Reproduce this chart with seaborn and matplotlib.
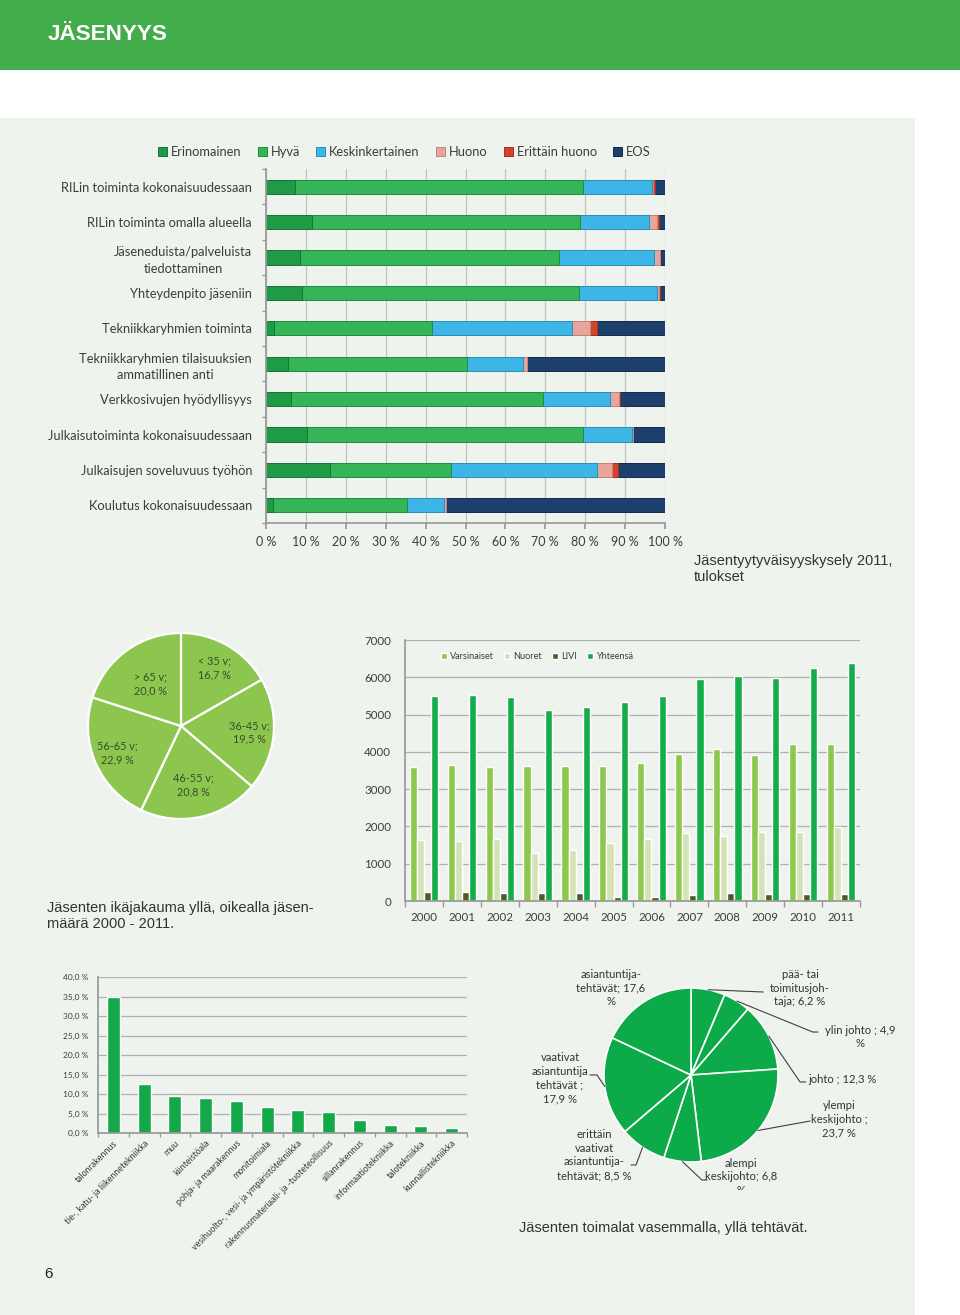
import numpy as np
import pandas as pd
import seaborn as sns
import matplotlib.pyplot as plt
from matplotlib.patches import Rectangle

sns.set_theme(style="white")
plt.rcParams['font.family'] = ['Lato', 'DejaVu Sans']

W, H = 960, 1315
TXT = '#3c3c3c'

# ---------------- data ----------------
questions = ["RILin toiminta kokonaisuudessaan", "RILin toiminta omalla alueella",
             "Jäseneduista/palveluista\ntiedottaminen", "Yhteydenpito jäseniin",
             "Tekniikkaryhmien toiminta", "Tekniikkaryhmien tilaisuuksien\nammatillinen anti",
             "Verkkosivujen hyödyllisyys", "Julkaisutoiminta kokonaisuudessaan",
             "Julkaisujen soveluvuus työhön", "Koulutus kokonaisuudessaan"]
erinomainen = [7.3, 11.5, 8.6, 9.0, 1.9, 5.5, 6.3, 10.3, 16.1, 1.7]
hyva = [72.1, 67.2, 64.9, 69.5, 39.8, 44.8, 63.2, 69.2, 30.3, 33.6]
keskinkertainen = [17.3, 17.3, 23.8, 19.4, 35.1, 14.1, 16.7, 12.3, 36.5, 9.4]
huono = [0.4, 1.9, 1.4, 0.6, 4.4, 1.0, 2.3, 0.3, 3.9, 0.3]
erittain_huono = [0.4, 0.6, 0.0, 0.3, 1.7, 0.0, 0.3, 0.0, 1.5, 0.0]
eos = [2.5, 1.5, 1.3, 1.2, 17.1, 34.6, 11.2, 7.9, 11.7, 55.0]

age_groups = ["< 35 v;\n16,7 %", "36-45 v;\n19,5 %", "46-55 v;\n20,8 %", "56-65 v;\n22,9 %", "> 65 v;\n20,0 %"]
age_share = [16.7, 19.5, 20.8, 22.9, 20.0]

years = [str(y) for y in range(2000, 2012)]
varsinaiset = [3600, 3650, 3585, 3630, 3620, 3630, 3710, 3945, 4075, 3915, 4200, 4210]
nuoret = [1635, 1620, 1655, 1280, 1360, 1565, 1665, 1815, 1745, 1860, 1850, 1995]
livi = [250, 250, 225, 225, 225, 115, 115, 160, 205, 180, 190, 195]
yhteensa = [5505, 5525, 5480, 5135, 5210, 5330, 5505, 5955, 6045, 5990, 6250, 6385]

branches = ["talonrakennus", "tie-, katu- ja liikennetekniikka", "muu", "kiinteistöala",
            "pohja- ja maarakennus", "monitoimiala", "vesihuolto-, vesi- ja ympäristötekniikka",
            "rakennusmateriaali- ja -tuoteteollisuus", "sillanrakennus", "informaatiotekniikka",
            "talotekniikka", "kunnallistekniikka"]
branch_share = [35.0, 12.5, 9.6, 8.9, 8.1, 6.6, 6.0, 5.3, 3.4, 2.1, 1.7, 1.3]

tasks = ["pää- tai\ntoimitusjoh-\ntaja; 6,2 %", "ylin johto ; 4,9\n%", "johto ; 12,3 %",
         "ylempi\nkeskijohto ;\n23,7 %", "alempi\nkeskijohto; 6,8\n%",
         "erittäin\nvaativat\nasiantuntija-\ntehtävät; 8,5 %",
         "vaativat\nasiantuntija\ntehtävät ;\n17,9 %", "asiantuntija-\ntehtävät; 17,6\n%"]
task_share = [6.2, 4.9, 12.3, 23.7, 6.8, 8.5, 17.9, 17.6]

# ---------------- page ----------------
fig = plt.figure(figsize=(W / 100, H / 100), dpi=100)
fig.patch.set_facecolor('white')


def px_axes(x0, y0, x1, y1):
    ax = fig.add_axes([x0 / W, 1 - y1 / H, (x1 - x0) / W, (y1 - y0) / H])
    ax.set_facecolor('none')
    return ax


fig.add_artist(Rectangle((0, 1 - 70 / H), 1, 70 / H, transform=fig.transFigure,
                         facecolor='#42ad4a', edgecolor='none', zorder=-2))
fig.add_artist(Rectangle((0, 0), 915 / W, 1 - 118 / H, transform=fig.transFigure,
                         facecolor='#eff3ee', edgecolor='none', zorder=-2))
fig.text(48 / W, 1 - 34 / H, "JÄSENYYS", color='white', fontsize=16.2, fontweight='bold',
         family='Liberation Sans', va='center')

# ---------------- survey, stacked bars ----------------
ax1 = px_axes(266, 169, 665, 523)
cols = ['Erinomainen', 'Hyvä', 'Keskinkertainen', 'Huono', 'Erittäin huono', 'EOS']
sat_colors = {'Erinomainen': '#1f9b45', 'Hyvä': '#35b558', 'Keskinkertainen': '#3db5e6',
              'Huono': '#e8a59c', 'Erittäin huono': '#d2452a', 'EOS': '#1d3f6c'}
sat_edges = {'Erinomainen': '#16753a', 'Hyvä': '#228c41', 'Keskinkertainen': '#2a8fb8',
             'Huono': '#c98279', 'Erittäin huono': '#a5321c', 'EOS': '#13294a'}
sat = pd.DataFrame({'kysymys': questions, 'Erinomainen': erinomainen, 'Hyvä': hyva,
                    'Keskinkertainen': keskinkertainen, 'Huono': huono,
                    'Erittäin huono': erittain_huono, 'EOS': eos})
cum = sat[cols].cumsum(axis=1)
cum['kysymys'] = questions
for col in reversed(cols):
    sns.barplot(data=cum, x=col, y='kysymys', orient='h', color=sat_colors[col],
                saturation=1, width=0.4, errorbar=None, edgecolor=sat_edges[col],
                linewidth=0.7, label=col, ax=ax1)
ax1.set_xlim(0, 100)
ax1.set_xticks(np.arange(0, 101, 10))
ax1.set_xticklabels([f"{v} %" for v in range(0, 101, 10)], fontsize=9, color=TXT)
ax1.set_yticklabels(questions, fontsize=9.3, color=TXT, multialignment='center')
for t in ax1.get_yticklabels():
    t.set_linespacing(1.45)
ax1.set_xlabel('')
ax1.set_ylabel('')
ax1.xaxis.grid(True, color='#c4c4c4', lw=0.9)
ax1.set_axisbelow(True)
ax1.set_yticks(np.arange(-0.5, 10, 1), minor=True)
ax1.tick_params(axis='y', which='major', length=0, pad=10)
ax1.tick_params(axis='y', which='minor', length=3, color='#999999', left=True)
ax1.tick_params(axis='x', length=4, color='#999999', bottom=True, pad=5)
for s in ['top', 'right']:
    ax1.spines[s].set_visible(False)
for s in ['left', 'bottom']:
    ax1.spines[s].set_color('#999999')
handles, labels = ax1.get_legend_handles_labels()
ax1.legend(handles[::-1], labels[::-1], ncol=6, loc='center', bbox_to_anchor=(0.347, 1.048),
           frameon=False, fontsize=9.3, handlelength=0.7, handleheight=0.7,
           handletextpad=0.3, columnspacing=1.25, labelcolor=TXT)
fig.text(694 / W, 1 - 569 / H, "Jäsentyytyväisyyskysely 2011,\ntulokset", fontsize=10.5,
         family='Liberation Sans', color='#333333', va='center', linespacing=1.2)

# ---------------- age pie ----------------
ax2 = px_axes(80, 625, 282, 827)
wedges, _ = ax2.pie(age_share, startangle=90, counterclock=False, colors=['#8dc64f'],
                    wedgeprops=dict(edgecolor='white', linewidth=1.6))
label_radius = [0.72, 0.74, 0.65, 0.74, 0.56]
for w, lab, r in zip(wedges, age_groups, label_radius):
    mid = np.deg2rad((w.theta1 + w.theta2) / 2)
    ax2.text(r * np.cos(mid), r * np.sin(mid), lab, ha='center', va='center',
             fontsize=7.8, color='#3b4a2b', linespacing=1.3)
ax2.set_xlim(-1.086, 1.086)
ax2.set_ylim(-1.086, 1.086)
ax2.set_aspect('auto')

# ---------------- members per year ----------------
ax3 = px_axes(405, 640, 860, 901)
members = pd.DataFrame({'vuosi': years, 'Varsinaiset': varsinaiset, 'Nuoret': nuoret,
                        'LIVI': livi, 'Yhteensä': yhteensa})
members = members.melt(id_vars='vuosi', var_name='ryhmä', value_name='jäseniä')
sns.barplot(data=members, x='vuosi', y='jäseniä', hue='ryhmä', saturation=1, width=0.75,
            palette=['#8cc84b', '#d4e3b6', '#4e5a28', '#14ad4a'], errorbar=None, ax=ax3)
ax3.set_ylim(0, 7000)
ax3.set_yticks(np.arange(0, 7001, 1000))
ax3.tick_params(axis='y', labelsize=8.3, labelcolor=TXT, length=0, pad=10)
ax3.tick_params(axis='x', labelsize=8.3, labelcolor=TXT, length=0, pad=8)
ax3.set_xticks(np.arange(-0.5, 12, 1), minor=True)
ax3.tick_params(axis='x', which='minor', length=4, color='#999999', bottom=True)
ax3.yaxis.grid(True, color='#b0b0b0', lw=0.9)
ax3.set_axisbelow(True)
ax3.set_xlabel('')
ax3.set_ylabel('')
for s in ['top', 'right']:
    ax3.spines[s].set_visible(False)
for s in ['left', 'bottom']:
    ax3.spines[s].set_color('#999999')
ax3.legend(ncol=4, loc='upper left', bbox_to_anchor=(0.06, 0.985), frameon=False,
           fontsize=6.6, handlelength=0.7, handleheight=0.7, handletextpad=0.3,
           columnspacing=1.1, labelcolor=TXT)
fig.text(47 / W, 1 - 916 / H, "Jäsenten ikäjakauma yllä, oikealla jäsen-\nmäärä 2000 - 2011.",
         fontsize=10.5, family='Liberation Sans', color='#333333', va='center', linespacing=1.2)

# ---------------- branches ----------------
ax4 = px_axes(98, 977, 467, 1133)
sns.barplot(x=branches, y=branch_share, color='#13a84a', saturation=1, width=0.42,
            errorbar=None, ax=ax4)
ax4.set_ylim(0, 40)
ax4.set_yticks(np.arange(0, 41, 5))
ax4.set_yticklabels([f"{v:.1f} %".replace('.', ',') for v in range(0, 41, 5)])
ax4.tick_params(axis='y', labelsize=6, labelcolor=TXT, length=0, pad=7)
ax4.set_xticks(range(len(branches)))
ax4.set_xticklabels(branches, rotation=45, ha='right', rotation_mode='anchor',
                    fontsize=6.4, color=TXT)
ax4.tick_params(axis='x', which='major', length=0, pad=4)
ax4.set_xticks(np.arange(-0.5, len(branches), 1), minor=True)
ax4.tick_params(axis='x', which='minor', length=3, color='#999999', bottom=True)
ax4.yaxis.grid(True, color='#b0b0b0', lw=0.9)
ax4.set_axisbelow(True)
for s in ['top', 'right']:
    ax4.spines[s].set_visible(False)
for s in ['left', 'bottom']:
    ax4.spines[s].set_color('#999999')

# ---------------- tasks pie ----------------
R = 87.0
cx, cy = 691, 1075
ax5 = px_axes(510, 960, 910, 1190)
wedges, _ = ax5.pie(task_share, startangle=90, counterclock=False, colors=['#0daa4a'],
                    wedgeprops=dict(edgecolor='white', linewidth=1.2))
# label place (radius units from centre), alignment, leader path after the wedge edge
label_layout = [
    ((1.253, 1.0), 'center', [(0.83, 0.954)]),
    ((1.943, 0.437), 'center', [(1.40, 0.494), (1.46, 0.494)]),
    ((1.345, -0.046), 'left', [(1.253, -0.08), (1.32, -0.08)]),
    ((1.70, -0.506), 'center', [(1.368, -0.529)]),
    ((0.575, -1.172), 'center', [(0.126, -1.207), (0.184, -1.207)]),
    ((-1.115, -0.92), 'center', [(-0.632, -1.034), (-0.69, -1.034)]),
    ((-1.506, -0.034), 'center', [(-1.08, 0.0), (-1.16, 0.0)]),
    ((-0.92, 1.0), 'center', []),
]
for w, lab, (pos, ha, path) in zip(wedges, tasks, label_layout):
    t = ax5.text(pos[0], pos[1], lab, ha=ha, va='center', fontsize=8.1, color='#333333',
                 linespacing=1.3)
    t.set_clip_on(True)
    if path:
        mid = np.deg2rad((w.theta1 + w.theta2) / 2)
        xs = [np.cos(mid)] + [p[0] for p in path]
        ys = [np.sin(mid)] + [p[1] for p in path]
        ax5.plot(xs, ys, color='#404040', lw=0.8)
ax5.set_xlim((510 - cx) / R, (910 - cx) / R)
ax5.set_ylim((cy - 1190) / R, (cy - 960) / R)
ax5.set_aspect('auto')

fig.text(519 / W, 1 - 1228 / H, "Jäsenten toimalat vasemmalla, yllä tehtävät.", fontsize=10.5,
         family='Liberation Sans', color='#333333', va='center')
fig.text(44 / W, 1 - 1274 / H, "6", fontsize=11, family='Liberation Sans', color='#222222',
         va='center')

fig.savefig('out.png', dpi=100)
